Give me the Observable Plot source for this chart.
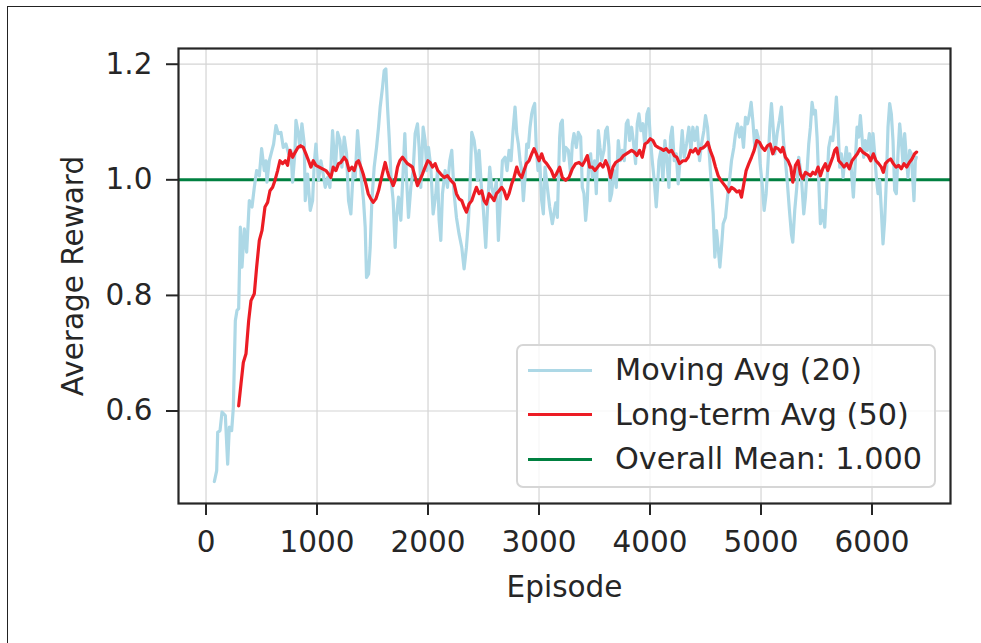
<!DOCTYPE html>
<html>
<head>
<meta charset="utf-8">
<script src="https://cdn.jsdelivr.net/npm/d3@7"></script>
<script src="https://cdn.jsdelivr.net/npm/@observablehq/plot@0.6"></script>
<style>
  html, body { margin: 0; padding: 0; background: #fff; }
  #fig { position: relative; width: 981px; height: 643px; overflow: hidden; font-family: "DejaVu Sans", sans-serif; color: #262626; }
  #fig svg { position: absolute; left: 0; top: 0; }
  .edge-top { position: absolute; left: 7px; top: 6px; width: 974px; height: 0; border-top: 1.5px solid #222; }
  .edge-left { position: absolute; left: 7px; top: 6px; width: 0; height: 637px; border-left: 1.5px solid #222; }
  .legend { position: absolute; left: 516px; top: 344px; width: 420px; height: 144px; box-sizing: border-box;
            border: 2px solid #d6d6d6; border-radius: 7px; background: rgba(255,255,255,0.8); }
  .legend .row { position: absolute; left: 0; height: 44px; }
  .legend .swatch { position: absolute; left: 10px; top: 20.5px; width: 64px; height: 3px; }
  .legend .label { position: absolute; left: 97px; top: 0; white-space: nowrap; font-size: 30.3px; line-height: 44px; }
</style>
</head>
<body>
<div id="fig"></div>
<script>
// Moving average over a 20-episode window: [episode, average reward]
const movingAvg20 = [[75,.478],[96,.497],[105,.563],[126,.566],[144,.598],[174,.592],[195,.508],[210,.572],[231,.566],[246,.606],[264,.756],[279,.774],[294,.777],[309,.918],[324,.849],[345,.915],[366,.875],[390,.964],[414,.953],[435,.987],[456,1.016],[480,1.007],[501,1.054],[525,1.016],[540,1.033],[549,.996],[570,1.033],[594,1.051],[609,1.062],[630,1.094],[651,1.080],[675,1.082],[696,1.056],[720,1.062],[744,1.045],[765,1.051],[780,.996],[801,1.048],[810,1.103],[828,1.085],[846,1.056],[864,1.097],[885,1.062],[894,.964],[915,1.010],[939,.947],[960,.964],[975,1.028],[990,1.062],[1014,.999],[1035,1.033],[1050,1.016],[1074,.987],[1095,1.004],[1116,.987],[1140,1.085],[1164,1.016],[1185,1.082],[1206,1.068],[1224,1.022],[1245,1.074],[1266,1.045],[1284,.964],[1305,.941],[1326,1.016],[1344,1.004],[1365,1.085],[1386,1.033],[1401,.999],[1419,.964],[1434,.918],[1446,.831],[1464,.837],[1479,.883],[1494,.964],[1515,1.022],[1536,1.056],[1554,1.091],[1569,1.126],[1590,1.160],[1605,1.189],[1620,1.192],[1635,1.126],[1650,1.074],[1668,.999],[1686,.964],[1704,.883],[1716,.935],[1734,.970],[1755,.930],[1776,1.016],[1791,1.080],[1806,1.004],[1824,.935],[1845,.987],[1866,1.016],[1884,1.080],[1905,1.097],[1920,1.056],[1935,.987],[1956,1.091],[1974,1.068],[1989,1.016],[2004,1.056],[2025,1.022],[2046,.941],[2070,.975],[2085,1.016],[2100,.930],[2115,.895],[2130,.976],[2154,1.016],[2175,.987],[2196,1.033],[2214,1.051],[2235,.976],[2256,.935],[2280,.906],[2304,.883],[2325,.846],[2346,.883],[2364,.930],[2376,.976],[2394,1.082],[2415,1.068],[2430,1.045],[2445,.999],[2460,1.051],[2481,.987],[2499,.947],[2520,.883],[2535,.947],[2556,1.022],[2574,.987],[2595,.970],[2616,.999],[2634,.895],[2652,.964],[2670,1.033],[2694,1.039],[2712,1.016],[2730,1.051],[2748,1.033],[2766,1.085],[2784,1.126],[2799,1.080],[2814,1.062],[2829,1.033],[2844,1.016],[2859,.964],[2874,1.004],[2889,1.062],[2904,1.056],[2919,1.091],[2934,1.114],[2949,1.126],[2961,1.132],[2976,1.051],[2991,1.016],[3006,1.033],[3024,.964],[3039,.941],[3054,1.022],[3075,.987],[3096,.953],[3120,.924],[3150,.960],[3165,.935],[3186,1.074],[3195,1.097],[3210,1.103],[3225,1.033],[3240,1.056],[3264,1.051],[3285,1.010],[3300,1.062],[3315,1.080],[3336,1.056],[3354,1.082],[3375,1.074],[3390,.987],[3405,.976],[3420,.930],[3435,.964],[3450,1.039],[3465,1.045],[3480,1.004],[3501,1.033],[3516,.976],[3534,1.085],[3549,1.056],[3564,1.033],[3585,1.051],[3600,1.085],[3615,1.091],[3630,1.056],[3639,.964],[3654,.976],[3675,1.016],[3696,.987],[3714,1.068],[3732,1.033],[3750,1.051],[3768,1.033],[3786,1.097],[3801,1.103],[3816,1.068],[3834,1.091],[3849,1.068],[3870,1.028],[3885,1.097],[3900,1.114],[3918,1.085],[3936,1.097],[3954,1.056],[3972,1.114],[3987,1.123],[4002,1.074],[4020,1.033],[4038,.999],[4056,.953],[4068,.987],[4080,1.033],[4098,1.051],[4116,.999],[4134,1.068],[4152,1.033],[4170,.987],[4185,1.074],[4200,1.091],[4218,1.033],[4236,1.045],[4254,.993],[4275,1.045],[4290,1.085],[4308,1.039],[4329,1.062],[4350,1.091],[4368,1.051],[4386,1.091],[4404,1.068],[4425,1.091],[4446,1.033],[4464,1.062],[4485,1.085],[4500,1.111],[4518,1.091],[4536,1.039],[4554,.987],[4569,.941],[4584,.866],[4599,.912],[4614,.883],[4629,.849],[4644,.883],[4659,.924],[4680,.935],[4698,.970],[4716,.999],[4734,1.033],[4755,1.056],[4770,1.080],[4788,1.097],[4806,1.074],[4824,1.091],[4842,1.056],[4860,1.108],[4878,1.097],[4896,1.114],[4911,1.134],[4926,1.103],[4944,1.056],[4959,1.085],[4974,1.074],[4992,1.028],[5010,.993],[5028,.947],[5046,.976],[5064,1.033],[5079,1.091],[5094,1.132],[5109,1.091],[5124,1.045],[5145,1.080],[5166,1.103],[5184,1.126],[5202,1.068],[5220,1.033],[5238,.993],[5256,.947],[5274,.906],[5286,.892],[5304,.948],[5322,.987],[5340,1.039],[5364,1.004],[5385,.941],[5400,.970],[5415,1.016],[5430,1.062],[5445,1.091],[5460,1.134],[5475,1.114],[5490,1.120],[5505,1.074],[5520,.999],[5535,.924],[5556,.947],[5574,.918],[5592,.987],[5610,1.056],[5628,1.074],[5646,1.068],[5664,1.103],[5679,1.143],[5694,1.091],[5709,1.022],[5724,1.045],[5739,1.004],[5754,1.033],[5769,1.056],[5784,1.022],[5799,1.045],[5814,1.016],[5832,.970],[5850,1.033],[5865,1.091],[5880,1.074],[5895,1.111],[5910,1.074],[5925,1.039],[5940,1.068],[5958,1.051],[5976,1.080],[5994,1.039],[6009,1.080],[6024,1.045],[6039,1.004],[6054,.976],[6069,.999],[6084,.947],[6099,.889],[6114,.930],[6129,.999],[6144,1.091],[6159,1.132],[6174,1.114],[6189,1.068],[6204,.982],[6219,.976],[6234,1.045],[6249,1.097],[6264,1.068],[6279,1.028],[6294,1.080],[6309,1.039],[6324,1.004],[6339,1.051],[6354,1.045],[6366,1.004],[6378,.964],[6390,1.033],[6399,1.039]];

// Long-term average over a 50-episode window: [episode, average reward]
const longTermAvg50 = [[294,.609],[315,.647],[336,.684],[360,.699],[384,.756],[405,.791],[435,.803],[456,.849],[480,.895],[504,.912],[531,.953],[555,.961],[576,.981],[600,.987],[621,.999],[645,1.016],[666,1.033],[690,1.028],[714,1.033],[735,1.025],[756,1.051],[780,1.039],[804,1.048],[828,1.056],[852,1.059],[876,1.056],[900,1.045],[924,1.033],[945,1.022],[966,1.033],[990,1.025],[1020,1.022],[1050,1.019],[1080,1.016],[1104,1.010],[1125,1.004],[1146,1.022],[1170,1.016],[1194,1.028],[1215,1.030],[1245,1.039],[1266,1.033],[1290,1.016],[1314,1.022],[1335,1.016],[1356,1.030],[1374,1.033],[1395,1.022],[1416,1.010],[1440,.993],[1461,.976],[1485,.967],[1506,.961],[1530,.967],[1554,.981],[1575,.999],[1596,1.016],[1614,1.030],[1632,1.016],[1650,1.004],[1668,.999],[1686,.990],[1704,.999],[1725,1.022],[1746,1.033],[1770,1.039],[1794,1.033],[1815,1.028],[1839,1.025],[1860,1.022],[1881,1.007],[1905,.990],[1926,.999],[1950,1.010],[1974,1.022],[1998,1.033],[2019,1.030],[2040,1.022],[2064,1.028],[2088,1.016],[2115,1.010],[2145,1.004],[2175,1.007],[2205,.999],[2235,.993],[2256,.976],[2280,.967],[2304,.964],[2325,.953],[2346,.944],[2370,.958],[2394,.964],[2415,.976],[2436,.987],[2460,.976],[2484,.981],[2505,.964],[2526,.958],[2550,.976],[2574,.970],[2595,.964],[2616,.976],[2640,.981],[2664,.987],[2685,.981],[2709,.967],[2730,.976],[2754,.993],[2775,1.004],[2799,1.022],[2820,1.010],[2844,1.004],[2865,1.016],[2886,1.028],[2910,1.033],[2934,1.045],[2955,1.054],[2976,1.045],[3000,1.033],[3024,1.045],[3045,1.033],[3069,1.028],[3090,1.022],[3111,1.016],[3135,1.004],[3156,1.010],[3186,1.022],[3210,1.004],[3240,.999],[3270,1.004],[3300,1.019],[3330,1.028],[3360,1.030],[3390,1.025],[3414,1.033],[3435,1.042],[3456,1.022],[3480,1.022],[3504,1.016],[3528,1.022],[3552,1.028],[3576,1.022],[3600,1.033],[3624,1.022],[3645,1.004],[3666,1.022],[3690,1.030],[3714,1.033],[3738,1.036],[3762,1.042],[3786,1.045],[3810,1.048],[3834,1.051],[3858,1.048],[3882,1.042],[3906,1.051],[3930,1.039],[3954,1.062],[3978,1.065],[4002,1.071],[4026,1.068],[4050,1.059],[4074,1.056],[4098,1.054],[4122,1.051],[4146,1.054],[4170,1.048],[4194,1.051],[4218,1.042],[4242,1.039],[4266,1.028],[4296,1.033],[4320,1.033],[4344,1.039],[4365,1.051],[4386,1.048],[4410,1.054],[4434,1.045],[4455,1.054],[4476,1.055],[4500,1.059],[4521,1.065],[4542,1.051],[4566,1.039],[4590,1.022],[4614,1.007],[4638,.999],[4662,.993],[4686,.987],[4710,.979],[4734,.987],[4758,.984],[4782,.979],[4806,.981],[4824,.970],[4845,.993],[4866,1.016],[4890,1.028],[4914,1.039],[4938,1.051],[4962,1.068],[4986,1.065],[5010,1.056],[5034,1.051],[5058,1.059],[5082,1.062],[5106,1.045],[5130,1.056],[5154,1.054],[5178,1.048],[5196,1.056],[5220,1.039],[5244,1.033],[5268,1.022],[5286,.996],[5310,1.025],[5334,1.033],[5355,1.010],[5376,1.002],[5400,1.013],[5424,1.010],[5445,1.007],[5466,1.013],[5490,1.010],[5514,1.022],[5535,1.007],[5556,1.019],[5580,1.028],[5601,1.016],[5625,1.028],[5646,1.039],[5664,1.051],[5682,1.055],[5700,1.033],[5724,1.028],[5748,1.022],[5772,1.028],[5796,1.019],[5820,1.033],[5844,1.039],[5868,1.045],[5892,1.054],[5916,1.048],[5940,1.045],[5964,1.042],[5988,1.033],[6012,1.045],[6036,1.033],[6060,1.028],[6084,1.022],[6102,1.013],[6120,1.028],[6144,1.033],[6168,1.036],[6192,1.028],[6216,1.022],[6240,1.025],[6264,1.019],[6288,1.028],[6312,1.022],[6336,1.030],[6360,1.036],[6384,1.045],[6402,1.048]];

const overallMean = 1.000;

const xTicks = [0, 1000, 2000, 3000, 4000, 5000, 6000];
const yTicks = [0.6, 0.8, 1.0, 1.2];

const seriesNames = ["Moving Avg (20)", "Long-term Avg (50)", `Overall Mean: ${overallMean.toFixed(3)}`];
const seriesColors = ["#add8e6", "#ec1c24", "#008040"];

const ink = "#262626";
const fontPx = 29.5;

const chart = Plot.plot({
  width: 981,
  height: 643,
  marginLeft: 178,
  marginRight: 31,
  marginTop: 48,
  marginBottom: 140,
  x: {domain: [-248, 6707]},
  y: {domain: [0.44, 1.2272]},
  style: {fontFamily: "DejaVu Sans", fontSize: fontPx + "px", color: ink, background: "transparent", overflow: "visible"},
  marks: [
    Plot.gridX(xTicks, {stroke: "#d4d4d4", strokeOpacity: 1, strokeWidth: 1.2}),
    Plot.gridY(yTicks, {stroke: "#d4d4d4", strokeOpacity: 1, strokeWidth: 1.2}),
    Plot.ruleY([overallMean], {stroke: seriesColors[2], strokeWidth: 3}),
    Plot.line(movingAvg20, {x: d => d[0], y: d => d[1], stroke: seriesColors[0], strokeWidth: 3.2}),
    Plot.line(longTermAvg50, {x: d => d[0], y: d => d[1], stroke: seriesColors[1], strokeWidth: 3.2}),
    Plot.frame({stroke: ink, strokeWidth: 2.2}),
    Plot.axisX(xTicks, {tickSize: 12, tickPadding: 16, fontSize: fontPx, stroke: ink, strokeWidth: 2, fill: ink, label: null, tickFormat: d => String(d)}),
    Plot.axisY(yTicks, {tickSize: 12, tickPadding: 14, fontSize: fontPx, stroke: ink, strokeWidth: 2, fill: ink, label: null, tickFormat: d3.format(".1f")}),
    Plot.text(["Episode"], {frameAnchor: "bottom", dy: 93, fill: ink, fontSize: fontPx}),
    Plot.text(["Average Reward"], {frameAnchor: "left", textAnchor: "middle", dx: -105, rotate: -90, fill: ink, fontSize: fontPx})
  ]
});

const fig = document.getElementById("fig");
fig.appendChild(chart);

const edgeTop = document.createElement("div"); edgeTop.className = "edge-top"; fig.appendChild(edgeTop);
const edgeLeft = document.createElement("div"); edgeLeft.className = "edge-left"; fig.appendChild(edgeLeft);

const legendBox = document.createElement("div");
legendBox.className = "legend";
seriesNames.forEach((name, i) => {
  const row = document.createElement("div");
  row.className = "row";
  row.style.top = (2 + i * 44.5) + "px";
  row.style.width = "100%";
  const sw = document.createElement("div");
  sw.className = "swatch";
  sw.style.background = seriesColors[i];
  const lab = document.createElement("div");
  lab.className = "label";
  lab.textContent = name;
  row.appendChild(sw);
  row.appendChild(lab);
  legendBox.appendChild(row);
});
fig.appendChild(legendBox);
</script>
</body>
</html>
